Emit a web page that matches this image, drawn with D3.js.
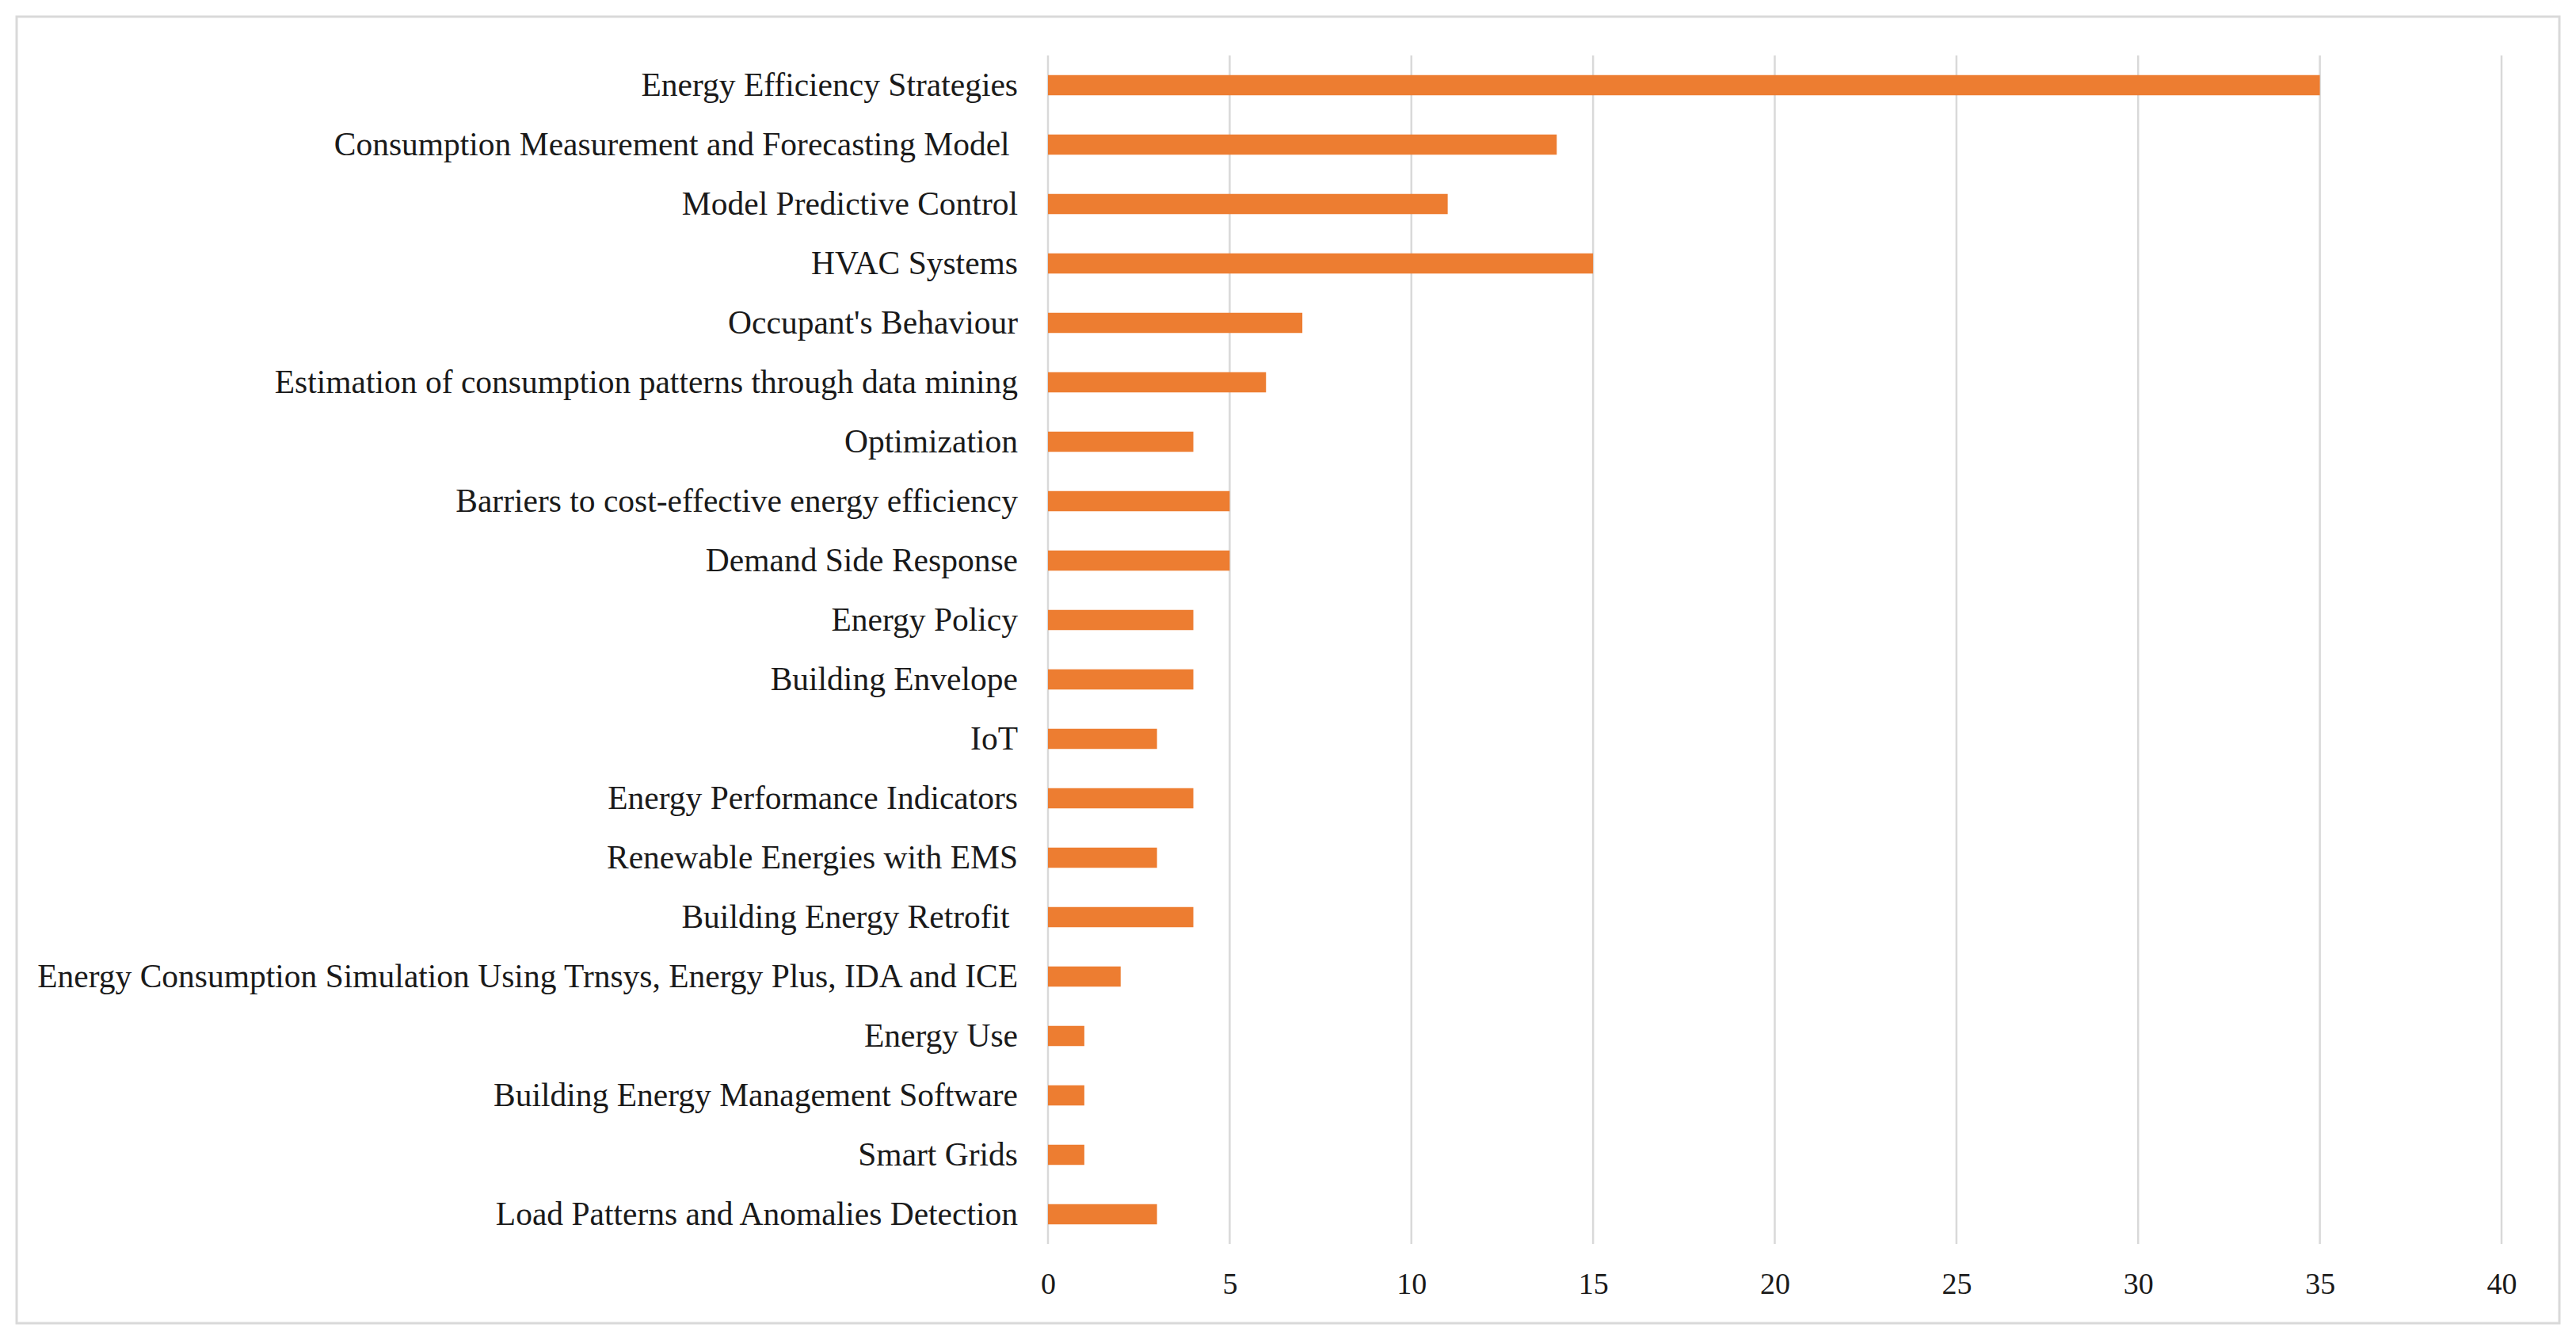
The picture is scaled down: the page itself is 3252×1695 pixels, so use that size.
<!DOCTYPE html>
<html><head><meta charset="utf-8">
<script src="https://cdn.jsdelivr.net/npm/d3@7"></script>
<style>html,body{margin:0;padding:0;background:#fff;} text{white-space:pre;}</style>
</head><body>
<svg id="chart" width="3252" height="1695"></svg>
<script>
const categories = [
  "Energy Efficiency Strategies",
  "Consumption Measurement and Forecasting Model ",
  "Model Predictive Control",
  "HVAC Systems",
  "Occupant's Behaviour",
  "Estimation of consumption patterns through data mining",
  "Optimization",
  "Barriers to cost-effective energy efficiency",
  "Demand Side Response",
  "Energy Policy",
  "Building Envelope",
  "IoT",
  "Energy Performance Indicators",
  "Renewable Energies with EMS",
  "Building Energy Retrofit ",
  "Energy Consumption Simulation Using Trnsys, Energy Plus, IDA and ICE",
  "Energy Use",
  "Building Energy Management Software",
  "Smart Grids",
  "Load Patterns and Anomalies Detection"
];
const values = [35,14,11,15,7,6,4,5,5,4,4,3,4,3,4,2,1,1,1,3];
const xTicks = [0,5,10,15,20,25,30,35,40];

const svg = d3.select("#chart");
svg.append("rect").attr("x",21).attr("y",21).attr("width",3210).attr("height",1649)
  .attr("fill","#fff").attr("stroke","#d9d9d9").attr("stroke-width",3);

const x = d3.scaleLinear().domain([0,40]).range([1323,3158]);
const y = d3.scaleBand().domain(categories).range([70,1570]).paddingInner(0.66).paddingOuter(0.33);

// gridlines
svg.append("g").selectAll("line").data(xTicks).join("line")
  .attr("x1",d=>x(d)).attr("x2",d=>x(d)).attr("y1",70).attr("y2",1570)
  .attr("stroke","#d9d9d9").attr("stroke-width",2.5);

// bars
svg.append("g").selectAll("rect").data(values).join("rect")
  .attr("x",x(0)).attr("y",(d,i)=>y(categories[i]))
  .attr("width",d=>x(d)-x(0)).attr("height",y.bandwidth())
  .attr("fill","#ed7d31");

// y labels
const yAxis = d3.axisLeft(y).tickSize(0).tickPadding(38);
const gy = svg.append("g").attr("transform",`translate(${x(0)},0)`).call(yAxis);
gy.select(".domain").remove();
gy.selectAll("text").attr("font-family","'Liberation Serif','Times New Roman',serif")
  .attr("font-size",41.5).attr("fill","#1a1a1a").attr("xml:space","preserve");

// x axis
const xAxis = d3.axisBottom(x).tickValues(xTicks).tickSize(0).tickPadding(36);
const gx = svg.append("g").attr("transform","translate(0,1570)").call(xAxis);
gx.select(".domain").remove();
gx.selectAll("text").attr("font-family","'Liberation Serif','Times New Roman',serif")
  .attr("font-size",38).attr("fill","#1a1a1a");
</script>
</body></html>
